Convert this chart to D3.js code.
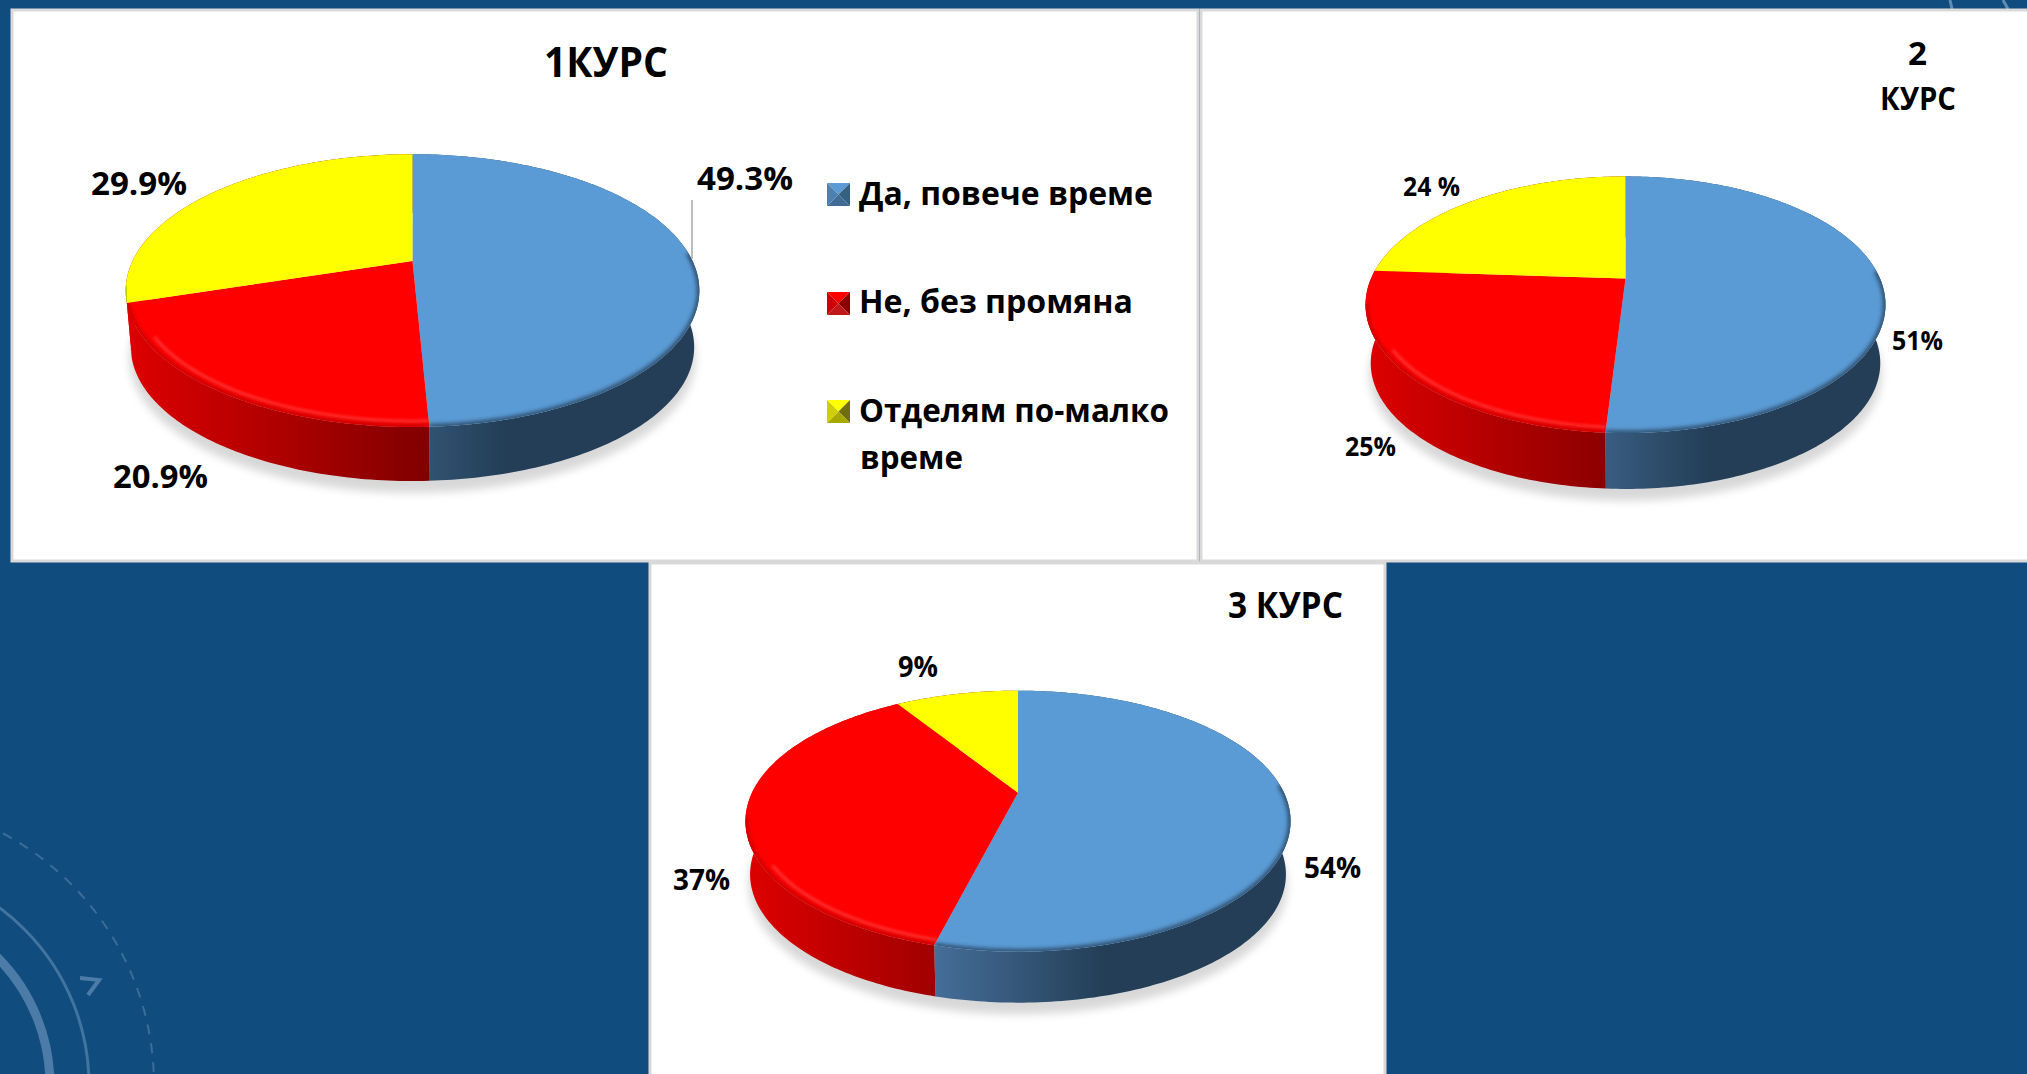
<!DOCTYPE html>
<html>
<head>
<meta charset="utf-8">
<script src="https://cdn.jsdelivr.net/npm/d3@7"></script>
<style>
body { margin: 0; background: #114c7f; overflow: hidden; }
text { font-family: "Open Sans", sans-serif; font-weight: 700; fill: #000; }
</style>
</head>
<body>
<div id="chart-area"></div>
<script>
// Data
var categories = ["Да, повече време", "Не, без промяна", "Отделям по-малко"];
var legendExtra = "време";
var values1 = [49.3, 20.9, 29.9];
var values2 = [51, 25, 24];
var values3 = [54, 37, 9];
var labels1 = ["49.3%", "20.9%", "29.9%"];
var labels2 = ["51%", "25%", "24 %"];
var labels3 = ["54%", "37%", "9%"];

var width = 2027;
var height = 1074;

var svg = d3.select("#chart-area")
    .append("svg")
    .attr("width", width)
    .attr("height", height)
    .style("display", "block");

var defs = svg.append("defs");

var blur = function (id, sd) {
    defs.append("filter")
        .attr("id", id)
        .attr("x", "-10%").attr("y", "-10%")
        .attr("width", "120%").attr("height", "120%")
        .append("feGaussianBlur")
        .attr("stdDeviation", sd);
};
blur("blur1", 1.6);
blur("blur2", 2.2);
blur("blur4", 4);

var topColor = d3.scaleOrdinal().domain(categories).range(["#5b9bd5", "#ff0000", "#ffff00"]);
var rimColor = d3.scaleOrdinal().domain(categories).range(["#2a4a68", "#c40000", "#b0b000"]);

// Background decoration
var deco = svg.append("g").attr("fill", "none");
deco.append("circle").attr("cx", -131).attr("cy", 1085).attr("r", 181)
    .attr("stroke", "#4b7ba6").attr("stroke-width", 9);
deco.append("circle").attr("cx", -131).attr("cy", 1085).attr("r", 220)
    .attr("stroke", "#41749f").attr("stroke-width", 3);
deco.append("circle").attr("cx", -131).attr("cy", 1085).attr("r", 285)
    .attr("stroke", "#3a6d9a").attr("stroke-width", 2).attr("stroke-dasharray", "10 9");
deco.append("path").attr("d", "M80,978 L99,980 L88,995")
    .attr("stroke", "#4b7ba6").attr("stroke-width", 4);
deco.append("path").attr("d", "M1950,0 L1952,9 M2003,0 L2008,9")
    .attr("stroke", "#5f8db3").attr("stroke-width", 3);

// Panels
var panels = [[12, 10, 1186, 551], [1201, 10, 830, 551], [650, 563, 735, 515]];
svg.selectAll("rect.panel").data(panels).enter().append("rect")
    .attr("class", "panel")
    .attr("x", function (d) { return d[0]; })
    .attr("y", function (d) { return d[1]; })
    .attr("width", function (d) { return d[2]; })
    .attr("height", function (d) { return d[3]; })
    .attr("fill", "#fff")
    .attr("stroke", "#d9d9d9")
    .attr("stroke-width", 3);

function addText(str, x, y, size, len) {
    return svg.append("text")
        .attr("x", x)
        .attr("y", y)
        .attr("font-size", size)
        .attr("textLength", len)
        .attr("lengthAdjust", "spacingAndGlyphs")
        .text(str);
}

function drawPie(id, values, g) {
    var group = svg.append("g").attr("id", id);

    // slightly tilted disc: a circle seen through a perspective
    function project(angle, scale, dy) {
        var side = Math.sin(angle);
        var front = -Math.cos(angle);
        var w = 1 - g.k * front;
        return [g.cx + scale * g.a * side / w, g.cy + dy + scale * g.b * front / w];
    }
    function arcPoints(a0, a1, scale, dy) {
        var n = Math.max(2, Math.ceil((a1 - a0) * 60));
        return d3.range(n + 1).map(function (i) {
            return project(a0 + (a1 - a0) * i / n, scale, dy);
        });
    }

    var line = d3.line();
    var tau = Math.PI * 2;
    var slices = d3.pie().sort(null)(values);
    slices.forEach(function (s, i) { s.category = categories[i]; });

    // ground shadow
    group.append("path")
        .attr("d", line(arcPoints(0, tau, g.s * 1.005, g.dy + 11)) + "Z")
        .attr("fill", "#d8d8d8")
        .attr("filter", "url(#blur4)");

    // wall gradients
    var blue = defs.append("linearGradient").attr("id", id + "-wall0")
        .attr("gradientUnits", "userSpaceOnUse")
        .attr("x1", g.cx - g.a * 0.33).attr("x2", g.cx + g.a * 0.33)
        .attr("y1", 0).attr("y2", 0);
    blue.append("stop").attr("offset", 0).attr("stop-color", "#466f9b");
    blue.append("stop").attr("offset", 1).attr("stop-color", "#233e56");
    var red = defs.append("linearGradient").attr("id", id + "-wall1")
        .attr("gradientUnits", "userSpaceOnUse")
        .attr("x1", g.cx - g.a).attr("x2", g.cx + g.a * 0.06)
        .attr("y1", 0).attr("y2", 0);
    red.append("stop").attr("offset", 0).attr("stop-color", "#dc0000");
    red.append("stop").attr("offset", 1).attr("stop-color", "#800000");

    // walls, the yellow one only shows as a sliver at the far left and is red there in the original
    slices.forEach(function (s, i) {
        var pts = arcPoints(s.startAngle, s.endAngle, 1, 0)
            .concat(arcPoints(s.startAngle, s.endAngle, g.s, g.dy).reverse());
        group.append("path")
            .attr("d", line(pts) + "Z")
            .attr("fill", "url(#" + id + "-wall" + Math.min(i, 1) + ")");
    });

    // tops with a soft bevel on the front edge
    slices.forEach(function (s, i) {
        var pts = [[g.cx, g.cy]].concat(arcPoints(s.startAngle, s.endAngle, 1, 0));
        var d = line(pts) + "Z";
        var clip = id + "-clip" + i;
        defs.append("clipPath").attr("id", clip).append("path").attr("d", d);

        group.append("path").attr("d", d).attr("fill", topColor(s.category));

        var a0 = Math.max(s.startAngle, tau * 0.24);
        var a1 = Math.min(s.endAngle, tau * 0.72);
        if (a1 <= a0) return;
        var rim = group.append("g").attr("clip-path", "url(#" + clip + ")");
        if (i === 1) {
            rim.append("path")
                .attr("d", line(arcPoints(a0, Math.min(a1, tau * 0.66), 0.965, 0)))
                .attr("fill", "none")
                .attr("stroke", "#ff3c3c")
                .attr("stroke-width", 2.5)
                .attr("filter", "url(#blur1)");
        }
        rim.append("path")
            .attr("d", line(arcPoints(a0, a1, 1, 0)))
            .attr("fill", "none")
            .attr("stroke", rimColor(s.category))
            .attr("stroke-width", 5)
            .attr("filter", "url(#blur2)");
    });
}

drawPie("pie1", values1, {cx: 412.5, cy: 261, a: 280, b: 130, k: 0.217, s: 0.982, dy: 57});
drawPie("pie2", values2, {cx: 1625.5, cy: 278.5, a: 254.5, b: 123, k: 0.204, s: 0.98, dy: 59});
drawPie("pie3", values3, {cx: 1018, cy: 792.7, a: 266, b: 124.3, k: 0.218, s: 0.983, dy: 53.7});

// Leader line of the first pie
svg.append("line")
    .attr("x1", 692).attr("x2", 692)
    .attr("y1", 200).attr("y2", 259)
    .attr("stroke", "#a6a6a6")
    .attr("stroke-width", 1.5);

// Titles
addText("1КУРС", 544, 77, 41, 124);
addText("2", 1908, 65, 33, 19);
addText("КУРС", 1880, 110, 33, 76);
addText("3 КУРС", 1228, 618, 35, 115);

// Data labels
addText(labels1[0], 697, 190, 33, 96);
addText(labels1[1], 113, 488, 33, 95);
addText(labels1[2], 91, 195, 33, 96);
addText(labels2[0], 1892, 350, 27, 51);
addText(labels2[1], 1345, 456, 27, 51);
addText(labels2[2], 1403, 196, 27, 57);
addText(labels3[0], 1304, 878, 28, 57);
addText(labels3[1], 673, 890, 28, 57);
addText(labels3[2], 898, 677, 28, 40);

// Legend
var keyShades = [
    ["#5b9bd5", "#4a80b2", "#35607f", "#3f6b94"],
    ["#ff0000", "#d00000", "#8a0000", "#c01818"],
    ["#ffff00", "#cfcf00", "#6e6e10", "#a8a800"]
];
var keySize = 23;
var keyX = 827;
var keyY = [183, 292, 400];
var legendBase = [205, 313, 422];
var legendLen = [294, 274, 310];

categories.forEach(function (cat, i) {
    var k = svg.append("g").attr("transform", "translate(" + keyX + "," + keyY[i] + ")");
    var c = [keySize / 2, keySize / 2];
    var corners = [[0, 0], [keySize, 0], [keySize, keySize], [0, keySize]];
    // top, right, bottom, left faces of the little pyramid
    [[0, 1, 0], [1, 2, 2], [2, 3, 3], [3, 0, 1]].forEach(function (f) {
        k.append("path")
            .attr("d", d3.line()([corners[f[0]], corners[f[1]], c]) + "Z")
            .attr("fill", keyShades[i][f[2]]);
    });
    addText(cat, 859, legendBase[i], 33, legendLen[i]);
});
addText(legendExtra, 860, 469, 33, 103);
</script>
</body>
</html>
